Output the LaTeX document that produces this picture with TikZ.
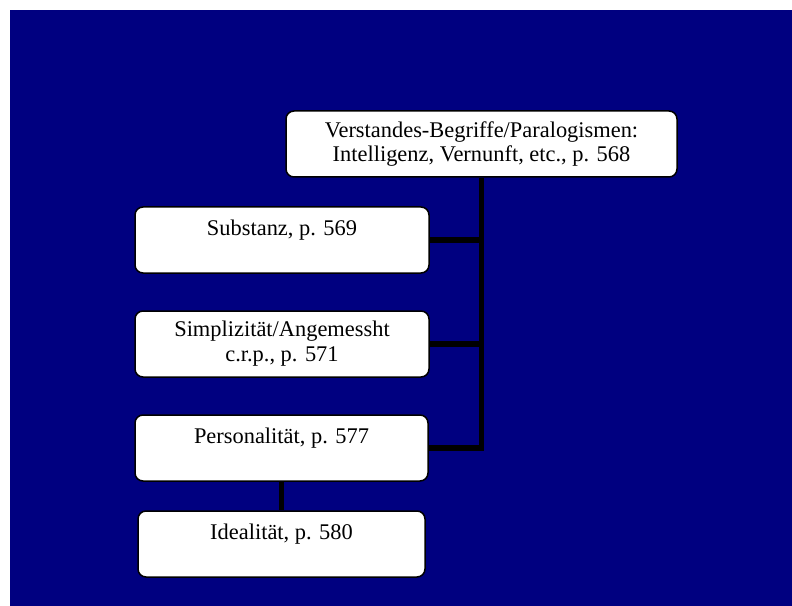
\documentclass[tikz,border=0pt]{standalone}
\usepackage{fontspec}
\setmainfont{Liberation Serif}
\usepackage{tikz}
\definecolor{slideblue}{HTML}{000080}

\begin{document}
\begin{tikzpicture}[x=1bp,y=-1bp,
  box/.style={draw=black,fill=white,line width=1.5bp,rounded corners=8bp,
    minimum height=66bp,inner sep=0pt,align=center,
    font=\fontsize{22.5}{25}\selectfont},
  link/.style={draw=black,line width=5.5bp}]
\useasboundingbox (0,0) rectangle (792,606);
\fill[slideblue] (10,10) rectangle (792,606);

\node[box,minimum width=391bp] (head) at (481.5,144) {Verstandes-Begriffe/Paralogismen:\\Intelligenz, Vernunft, etc., p. 568};
\node[box,minimum width=294bp] (subst) at (282,240) {Substanz, p. 569\\\mbox{}};
\node[box,minimum width=294bp] (simpl) at (282,344) {Simplizität/Angemessht\\c.r.p., p. 571};
\node[box,minimum width=293bp] (pers) at (281.5,448) {Personalität, p. 577\\\mbox{}};
\node[box,minimum width=287bp] (ideal) at (281.5,544) {Idealität, p. 580\\\mbox{}};

\draw[link] (head.south) |- (pers.east);
\draw[link] (subst.east) -- (subst.east -| head.south);
\draw[link] (simpl.east) -- (simpl.east -| head.south);
\draw[link] (pers.south) -- (ideal.north);
\end{tikzpicture}
\end{document}
